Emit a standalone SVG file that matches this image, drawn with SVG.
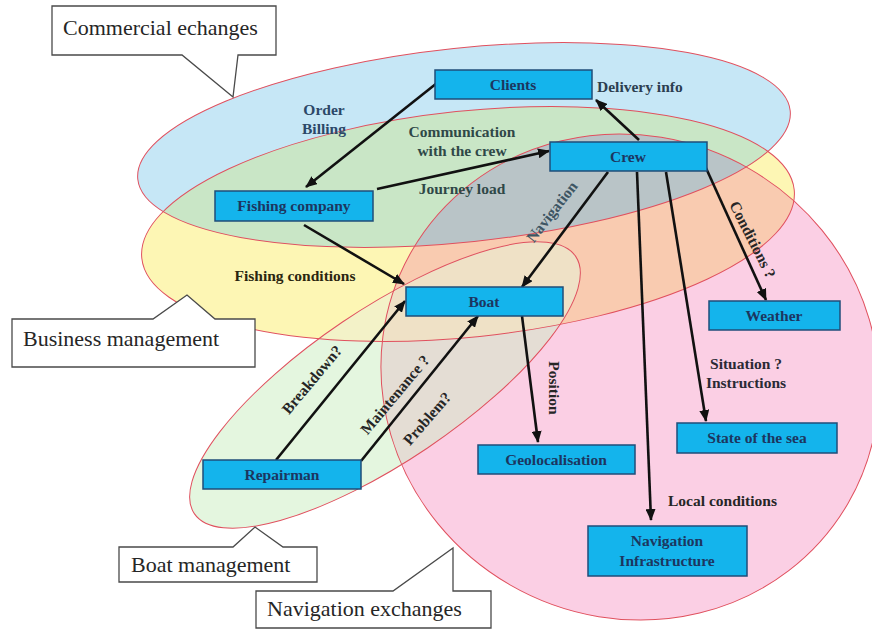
<svg xmlns="http://www.w3.org/2000/svg" xmlns:xlink="http://www.w3.org/1999/xlink" width="872" height="629" viewBox="0 0 872 629">
<style>
.box{fill:#14b4ec;stroke:#1f4e79;stroke-width:1.5}
.bt{font-family:"Liberation Serif","Times New Roman",serif;font-weight:bold;font-size:15.5px;fill:#1c3660;text-anchor:middle}
.lb{font-family:"Liberation Serif","Times New Roman",serif;font-weight:bold;font-size:15.5px;fill:#262626}
.co{fill:#ffffff;stroke:#4a4a4a;stroke-width:1.3}
.ct{font-family:"Liberation Serif","Times New Roman",serif;font-size:22px;fill:#262626}
.ol{fill:none;stroke:#e0505e;stroke-width:1}
.ar{fill:none;stroke:#111;stroke-width:2.6;marker-end:url(#ah)}
</style>
<defs>
<marker id="ah" markerUnits="userSpaceOnUse" markerWidth="12" markerHeight="10" refX="11" refY="5" orient="auto">
<path d="M0,0 L12,5 L0,10 Z" fill="#111"/>
</marker>
<ellipse id="eB" cx="464" cy="145" rx="328" ry="97" transform="rotate(-6 464 145)"/>
<ellipse id="eY" cx="468" cy="224" rx="328" ry="113" transform="rotate(-6 468 224)"/>
<ellipse id="eP" cx="630" cy="377" rx="252" ry="240" transform="rotate(30 630 377)"/>
<ellipse id="eG" cx="385" cy="385" rx="230" ry="76" transform="rotate(-34 385 385)"/>
<clipPath id="cB"><use xlink:href="#eB"/></clipPath>
<clipPath id="cY"><use xlink:href="#eY"/></clipPath>
<clipPath id="cP"><use xlink:href="#eP"/></clipPath>
<clipPath id="cG"><use xlink:href="#eG"/></clipPath>
</defs>
<rect x="0" y="0" width="872" height="629" fill="#ffffff"/>
<g id="areas">
<use xlink:href="#eY" fill="#fdf6b4"/>
<use xlink:href="#eB" fill="#c6e7f6"/>
<use xlink:href="#eP" fill="#fbcfe4"/>
<use xlink:href="#eB" fill="#c9e6c6" clip-path="url(#cY)"/>
<use xlink:href="#eP" fill="#f9cbb0" clip-path="url(#cY)"/>
<g clip-path="url(#cB)"><use xlink:href="#eP" fill="#b9c4c7"/></g>
<use xlink:href="#eG" fill="#e4f6df"/>
<use xlink:href="#eG" fill="#f3f2c8" clip-path="url(#cY)"/>
<use xlink:href="#eG" fill="#e4ddd4" clip-path="url(#cP)"/>
<g clip-path="url(#cY)"><use xlink:href="#eG" fill="#efe1c6" clip-path="url(#cP)"/></g>
<use xlink:href="#eY" class="ol"/>
<use xlink:href="#eB" class="ol"/>
<use xlink:href="#eP" class="ol"/>
<use xlink:href="#eG" class="ol"/>
</g>
<g id="callout-commercial">
<path class="co" d="M52,6 H276 V55 H238 L233,97 L182,55 H52 Z"/>
<text class="ct" x="63" y="35">Commercial echanges</text>
</g>
<g id="callout-business">
<path class="co" d="M12,319 H153 L187,295 L215,319 H255 V367 H12 Z"/>
<text class="ct" x="23" y="346">Business management</text>
</g>
<g id="callout-boat">
<path class="co" d="M119,547 H233 L255,527 L283,547 H317 V582 H119 Z"/>
<text class="ct" x="131" y="572">Boat management</text>
</g>
<g id="callout-navigation">
<path class="co" d="M256,591 H393 L453,548 V591 H491 V628 H256 Z"/>
<text class="ct" x="267" y="616">Navigation exchanges</text>
</g>
<g id="connectors">
<path class="ar" d="M437,83 L306,187"/>
<path class="ar" d="M377,189 L549,151"/>
<path class="ar" d="M639,140 L596,100"/>
<path class="ar" d="M304,225 L404,284"/>
<path class="ar" d="M608,172 L522,287"/>
<path class="ar" d="M706,168 L766,300"/>
<path class="ar" d="M666,172 L706,421"/>
<path class="ar" d="M637,172 L651,520"/>
<path class="ar" d="M522,316 L538,442"/>
<path class="ar" d="M276,460 L405,301"/>
<path class="ar" d="M361,461 L478,316"/>
</g>
<g id="edge-labels">
<text class="lb" x="324" y="115" text-anchor="middle" style="fill:#2c4868">Order</text>
<text class="lb" x="324" y="134" text-anchor="middle" style="fill:#2c4868">Billing</text>
<text class="lb" x="462" y="137" text-anchor="middle" style="fill:#2f4848">Communication</text>
<text class="lb" x="462" y="156" text-anchor="middle" style="fill:#2f4848">with the crew</text>
<text class="lb" x="462" y="194" text-anchor="middle" style="fill:#2f4848">Journey load</text>
<text class="lb" x="597" y="92" style="fill:#2c3e50">Delivery info</text>
<text class="lb" x="295" y="281" text-anchor="middle" style="fill:#2b2610">Fishing conditions</text>
<text class="lb" x="0" y="0" text-anchor="middle" transform="translate(556,215) rotate(-52)" style="fill:#3d5563">Navigation</text>
<text class="lb" x="0" y="0" text-anchor="middle" transform="translate(748,242) rotate(63)">Conditions ?</text>
<text class="lb" x="746" y="369" text-anchor="middle" style="fill:#2a2a35">Situation ?</text>
<text class="lb" x="746" y="388" text-anchor="middle" style="fill:#2a2a35">Instructions</text>
<text class="lb" x="668" y="506">Local conditions</text>
<text class="lb" x="0" y="0" text-anchor="middle" transform="translate(549,388) rotate(90)">Position</text>
<text class="lb" x="0" y="0" text-anchor="middle" transform="translate(316,383) rotate(-50)">Breakdown?</text>
<text class="lb" x="0" y="0" text-anchor="middle" transform="translate(399,398) rotate(-50)">Maintenance ?</text>
<text class="lb" x="0" y="0" text-anchor="middle" transform="translate(431,422) rotate(-49)">Problem?</text>
</g>
<g id="node-clients"><rect class="box" x="435" y="70" width="157" height="29"/><text class="bt" x="513" y="90">Clients</text></g>
<g id="node-crew"><rect class="box" x="550" y="142" width="157" height="29"/><text class="bt" x="628" y="162">Crew</text></g>
<g id="node-fishing-company"><rect class="box" x="215" y="191" width="158" height="30"/><text class="bt" x="294" y="211">Fishing company</text></g>
<g id="node-boat"><rect class="box" x="406" y="287" width="157" height="29"/><text class="bt" x="484" y="307">Boat</text></g>
<g id="node-weather"><rect class="box" x="709" y="301" width="131" height="29"/><text class="bt" x="774" y="321">Weather</text></g>
<g id="node-state-sea"><rect class="box" x="677" y="423" width="160" height="30"/><text class="bt" x="757" y="443">State of the sea</text></g>
<g id="node-geolocalisation"><rect class="box" x="478" y="445" width="157" height="29"/><text class="bt" x="556" y="465">Geolocalisation</text></g>
<g id="node-repairman"><rect class="box" x="203" y="460" width="158" height="29"/><text class="bt" x="282" y="480">Repairman</text></g>
<g id="node-nav-infra"><rect class="box" x="588" y="526" width="159" height="50"/><text class="bt" x="667" y="546">Navigation</text><text class="bt" x="667" y="566">Infrastructure</text></g>
</svg>
